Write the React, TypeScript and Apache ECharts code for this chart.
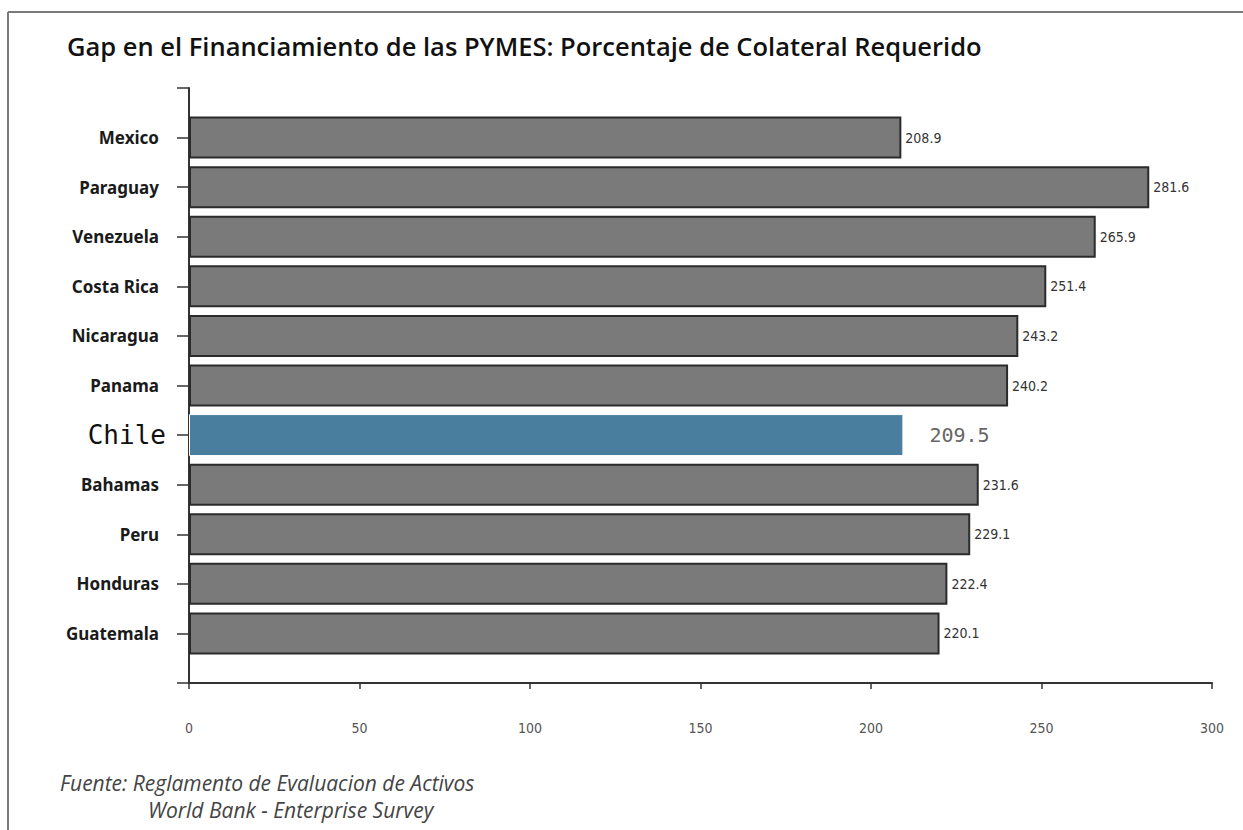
import React, { useEffect, useRef } from "react";
import * as echarts from "echarts";

const title = "Gap en el Financiamiento de las PYMES: Porcentaje de Colateral Requerido";
const sourceLines = ["Fuente: Reglamento de Evaluacion de Activos", "World Bank - Enterprise Survey"];
const categories = ["Mexico", "Paraguay", "Venezuela", "Costa Rica", "Nicaragua", "Panama", "Chile", "Bahamas", "Peru", "Honduras", "Guatemala"];
const values = [208.9, 281.6, 265.9, 251.4, 243.2, 240.2, 209.5, 231.6, 229.1, 222.4, 220.1];
const highlight = "Chile";
const xMin = 0;
const xMax = 300;
const xStep = 50;

const GRAY = "#7a7a7a";
const BLUE = "#4a7e9f";
const MONO = "'DejaVu Sans Mono', 'Liberation Mono', monospace";
const NARROW = "'Liberation Sans Narrow', 'DejaVu Sans Condensed', 'Liberation Sans', sans-serif";
const SANS = "'Open Sans', 'Noto Sans', sans-serif";

export default function App() {
  const ref = useRef<HTMLDivElement>(null);
  useEffect(() => {
    if (!ref.current) return;
    const chart = echarts.init(ref.current, null, { renderer: "svg" });
    const axisCats = ["", ...categories, ""];
    const seriesData: any[] = ["-"];
    categories.forEach((c, i) => {
      if (c === highlight) {
        seriesData.push({
          value: values[i],
          itemStyle: { color: BLUE, borderColor: "#ffffff", borderWidth: 1 },
          label: { distance: 26, fontFamily: MONO, fontSize: 20, color: "#666" },
        });
      } else {
        seriesData.push(values[i]);
      }
    });
    seriesData.push("-");
    chart.setOption({
      animation: false,
      backgroundColor: "#ffffff",
      title: {
        text: title,
        left: 62,
        top: 28,
        textStyle: { fontFamily: SANS, fontWeight: 600, fontSize: 25.5, color: "#111" },
      },
      grid: { left: 189, right: 31, top: 88, bottom: 147 },
      xAxis: {
        type: "value",
        min: xMin,
        max: xMax,
        interval: xStep,
        splitLine: { show: false },
        axisLine: { show: true, lineStyle: { color: "#333", width: 2 } },
        axisTick: { show: true, length: 6, lineStyle: { color: "#333", width: 1.5 } },
        axisLabel: { margin: 38, fontFamily: NARROW, fontSize: 14, color: "#555" },
      },
      yAxis: {
        type: "category",
        data: axisCats,
        inverse: true,
        boundaryGap: false,
        axisLine: { show: true, lineStyle: { color: "#333", width: 2 } },
        axisTick: { show: true, length: 12, interval: 0, lineStyle: { color: "#333", width: 1.5 } },
        axisLabel: {
          interval: 0,
          margin: 23,
          formatter: (v: string) => (v === highlight ? `{hl|${v}}` : v ? `{n|${v}}` : ""),
          fontFamily: "'Noto Sans', sans-serif",
          fontWeight: "bold",
          fontSize: 17,
          color: "#1a1a1a",
          rich: {
            n: { fontFamily: "'Noto Sans', sans-serif", fontWeight: "bold", fontSize: 17, color: "#1a1a1a", padding: [0, 7, 0, 0] },
            hl: { fontFamily: MONO, fontWeight: "normal", fontSize: 26, color: "#111" },
          },
        },
      },
      series: [
        {
          type: "bar",
          data: seriesData,
          barWidth: 42,
          itemStyle: { color: GRAY, borderColor: "#2b2b2b", borderWidth: 2 },
          label: {
            show: true,
            position: "right",
            distance: 4,
            formatter: (p: any) => Number(p.value).toFixed(1),
            fontFamily: NARROW,
            fontSize: 14,
            color: "#333",
          },
        },
      ],
      graphic: [
        { type: "line", shape: { x1: 8, y1: 12, x2: 1243, y2: 12 }, style: { stroke: "#7a7a7a", lineWidth: 2 } },
        { type: "line", shape: { x1: 8, y1: 12, x2: 8, y2: 830 }, style: { stroke: "#7a7a7a", lineWidth: 2 } },
        {
          type: "text",
          x: 60,
          y: 783,
          style: { text: sourceLines[0], fontFamily: SANS, fontStyle: "italic", fontSize: 21, fill: "#444", verticalAlign: "middle" },
        },
        {
          type: "text",
          x: 148,
          y: 810,
          style: { text: sourceLines[1], fontFamily: SANS, fontStyle: "italic", fontSize: 21, fill: "#444", verticalAlign: "middle" },
        },
      ],
    });
    return () => chart.dispose();
  }, []);
  return <div ref={ref} style={{ position: "fixed", left: 0, top: 0, width: 1243, height: 830 }} />;
}
